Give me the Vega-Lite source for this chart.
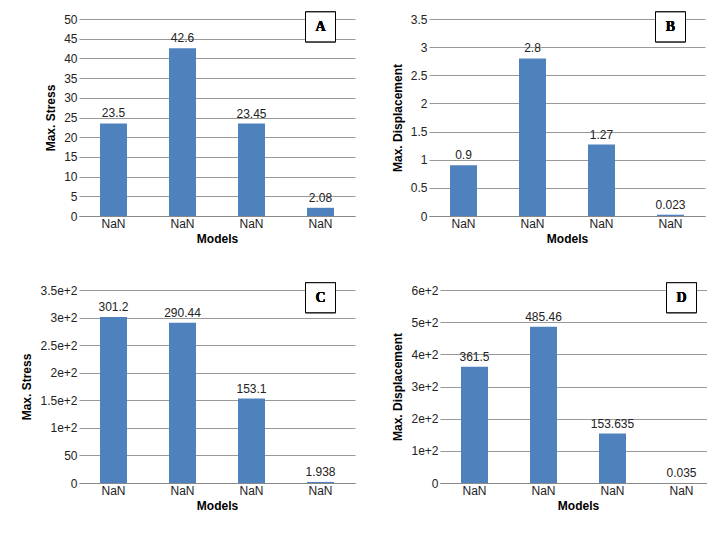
{
  "$schema": "https://vega.github.io/schema/vega-lite/v6.json",
  "background": "white",
  "padding": {"left": 20, "top": 9, "right": 5, "bottom": 5},
  "config": {
    "view": {"stroke": null},
    "font": "Liberation Sans",
    "axis": {"labelFont": "Liberation Sans", "labelFontSize": 12, "labelColor": "#222", "titleFont": "Liberation Sans", "titleFontSize": 12, "titleFontWeight": "bold", "titleColor": "#000", "domainColor": "#888", "tickColor": "#888", "gridColor": "#999", "format": "~g"},
    "concat": {"spacing": 36}
  },
  "datasets": {
    "A": [{"model": "Model A", "v": 23.5, "lab": "23.5"}, {"model": "Model B", "v": 42.6, "lab": "42.6"}, {"model": "Model C", "v": 23.45, "lab": "23.45"}, {"model": "Model D", "v": 2.08, "lab": "2.08"}],
    "B": [{"model": "Model A", "v": 0.9, "lab": "0.9"}, {"model": "Model B", "v": 2.8, "lab": "2.8"}, {"model": "Model C", "v": 1.27, "lab": "1.27"}, {"model": "Model D", "v": 0.023, "lab": "0.023"}],
    "C": [{"model": "Model A", "v": 301.2, "lab": "301.2"}, {"model": "Model B", "v": 290.44, "lab": "290.44"}, {"model": "Model C", "v": 153.1, "lab": "153.1"}, {"model": "Model D", "v": 1.938, "lab": "1.938"}],
    "D": [{"model": "Model A", "v": 361.5, "lab": "361.5"}, {"model": "Model B", "v": 485.46, "lab": "485.46"}, {"model": "Model C", "v": 153.635, "lab": "153.635"}, {"model": "Model D", "v": 0.035, "lab": "0.035"}]
  },
  "vconcat": [
    {"hconcat": [
      {"width": 276, "height": 197, "data": {"name": "A"},
       "encoding": {"x": {"field": "model", "type": "nominal", "title": "Models", "axis": {"labelAngle": 0, "ticks": false}},
                    "y": {"field": "v", "type": "quantitative", "title": "Max. Stress", "scale": {"domain": [0, 50]}, "axis": {"values": [0,5,10,15,20,25,30,35,40,45,50], "ticks": false, "domain": false, "titlePadding": 6}}},
       "layer": [
         {"mark": {"type": "bar", "color": "#4f81bd", "size": 27}},
         {"mark": {"type": "text", "dy": -10, "fontSize": 12, "color": "#222"}, "encoding": {"text": {"field": "lab"}}},
         {"mark": {"type": "point", "shape": "square", "size": 900, "filled": true, "color": "white", "stroke": "black", "strokeWidth": 1}, "encoding": {"x": {"datum": "Model D"}, "y": {"datum": 48}}},
         {"mark": {"type": "text", "font": "Liberation Serif", "fontWeight": "bold", "fontSize": 14, "color": "black"}, "encoding": {"x": {"datum": "Model D"}, "y": {"datum": 48}, "text": {"value": "A"}}}
       ]},
      {"width": 276, "height": 197, "data": {"name": "B"},
       "encoding": {"x": {"field": "model", "type": "nominal", "title": "Models", "axis": {"labelAngle": 0, "ticks": false}},
                    "y": {"field": "v", "type": "quantitative", "title": "Max. Displacement", "scale": {"domain": [0, 3.5]}, "axis": {"values": [0,0.5,1,1.5,2,2.5,3,3.5], "ticks": false, "domain": false, "titlePadding": 6}}},
       "layer": [
         {"mark": {"type": "bar", "color": "#4f81bd", "size": 27}},
         {"mark": {"type": "text", "dy": -10, "fontSize": 12, "color": "#222"}, "encoding": {"text": {"field": "lab"}}},
         {"mark": {"type": "point", "shape": "square", "size": 900, "filled": true, "color": "white", "stroke": "black", "strokeWidth": 1}, "encoding": {"x": {"datum": "Model D"}, "y": {"datum": 3.36}}},
         {"mark": {"type": "text", "font": "Liberation Serif", "fontWeight": "bold", "fontSize": 14, "color": "black"}, "encoding": {"x": {"datum": "Model D"}, "y": {"datum": 3.36}, "text": {"value": "B"}}}
       ]}
    ]},
    {"hconcat": [
      {"width": 276, "height": 193, "data": {"name": "C"},
       "encoding": {"x": {"field": "model", "type": "nominal", "title": "Models", "axis": {"labelAngle": 0, "ticks": false}},
                    "y": {"field": "v", "type": "quantitative", "title": "Max. Stress", "scale": {"domain": [0, 350]}, "axis": {"values": [0,50,100,150,200,250,300,350], "ticks": false, "domain": false, "titlePadding": 6}}},
       "layer": [
         {"mark": {"type": "bar", "color": "#4f81bd", "size": 27}},
         {"mark": {"type": "text", "dy": -10, "fontSize": 12, "color": "#222"}, "encoding": {"text": {"field": "lab"}}},
         {"mark": {"type": "point", "shape": "square", "size": 900, "filled": true, "color": "white", "stroke": "black", "strokeWidth": 1}, "encoding": {"x": {"datum": "Model D"}, "y": {"datum": 336}}},
         {"mark": {"type": "text", "font": "Liberation Serif", "fontWeight": "bold", "fontSize": 14, "color": "black"}, "encoding": {"x": {"datum": "Model D"}, "y": {"datum": 336}, "text": {"value": "C"}}}
       ]},
      {"width": 276, "height": 193, "data": {"name": "D"},
       "encoding": {"x": {"field": "model", "type": "nominal", "title": "Models", "axis": {"labelAngle": 0, "ticks": false}},
                    "y": {"field": "v", "type": "quantitative", "title": "Max. Displacement", "scale": {"domain": [0, 600]}, "axis": {"values": [0,100,200,300,400,500,600], "ticks": false, "domain": false, "titlePadding": 6}}},
       "layer": [
         {"mark": {"type": "bar", "color": "#4f81bd", "size": 27}},
         {"mark": {"type": "text", "dy": -10, "fontSize": 12, "color": "#222"}, "encoding": {"text": {"field": "lab"}}},
         {"mark": {"type": "point", "shape": "square", "size": 900, "filled": true, "color": "white", "stroke": "black", "strokeWidth": 1}, "encoding": {"x": {"datum": "Model D"}, "y": {"datum": 576}}},
         {"mark": {"type": "text", "font": "Liberation Serif", "fontWeight": "bold", "fontSize": 14, "color": "black"}, "encoding": {"x": {"datum": "Model D"}, "y": {"datum": 576}, "text": {"value": "D"}}}
       ]}
    ]}
  ]
}
